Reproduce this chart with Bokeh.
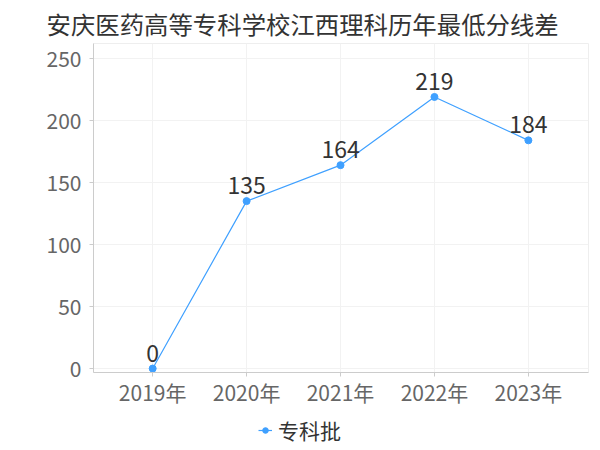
from bokeh.plotting import figure
from bokeh.layouts import column
from bokeh.models import ColumnDataSource, FixedTicker, Range1d, Legend, LegendItem
from bokeh.embed import file_html
from bokeh.resources import INLINE
from bokeh.core.properties import value

years = ["2019年", "2020年", "2021年", "2022年", "2023年"]
scores = [0, 135, 164, 219, 184]
series_name = "专科批"
title_text = "安庆医药高等专科学校江西理科历年最低分线差"
y_ticks = [0, 50, 100, 150, 200, 250]

xs = list(range(len(years)))
src = ColumnDataSource(dict(x=xs, y=scores, label=[str(v) for v in scores]))

LINE = "#3fa0ff"
FONT = "Noto Sans CJK SC"

p = figure(width=600, height=410, output_backend="svg", toolbar_location=None,
           x_range=Range1d(-0.63, 4.64), y_range=Range1d(-3.2, 262.1),
           min_border_left=93, min_border_right=12, min_border_top=43, min_border_bottom=38)

p.title.text = title_text
p.title.text_font = FONT
p.title.text_font_size = "24.4px"
p.title.text_font_style = "normal"
p.title.text_color = "#333333"
p.title.align = "left"
p.title.offset = -47
p.title.standoff = 6

p.outline_line_color = "#eeeeee"
p.background_fill_color = "white"

line_r = p.line("x", "y", source=src, line_color=LINE, line_width=1.2)
pts_r = p.scatter("x", "y", source=src, size=7, fill_color=LINE, line_color=LINE)
p.text("x", "y", text="label", source=src, text_align="center", text_baseline="bottom",
       y_offset=-7, text_font=value(FONT), text_font_size="23px", text_color="#333333")

p.xaxis.ticker = FixedTicker(ticks=xs)
p.xaxis.major_label_overrides = {i: y for i, y in enumerate(years)}
p.yaxis.ticker = FixedTicker(ticks=y_ticks)

for ax in (p.xaxis, p.yaxis):
    ax.axis_line_color = "#cccccc"
    ax.major_tick_line_color = "#cccccc"
    ax.major_tick_out = 4
    ax.major_tick_in = 0
    ax.minor_tick_line_color = None
    ax.major_label_text_font = FONT
    ax.major_label_text_font_size = "21px"
    ax.major_label_text_color = "#666666"
p.xaxis.major_label_standoff = 0
p.yaxis.major_label_standoff = 8

p.xgrid.ticker = FixedTicker(ticks=xs)
p.ygrid.ticker = FixedTicker(ticks=y_ticks)
p.grid.grid_line_color = "#f2f2f2"

# legend strip below the chart (its frame is aligned with the chart's frame)
lf = figure(width=600, height=40, output_backend="svg", toolbar_location=None,
            x_range=Range1d(0, 1), y_range=Range1d(1000, 1001),
            x_axis_type=None, y_axis_type=None,
            min_border_left=0, min_border_right=0, min_border_top=0, min_border_bottom=0)
lf.outline_line_color = None
lf.grid.visible = False
l_line = lf.line("x", "y", source=src, line_color=LINE, line_width=1.2)
l_pts = lf.scatter("x", "y", source=src, size=7, fill_color=LINE, line_color=LINE)

legend = Legend(items=[LegendItem(label=series_name, renderers=[l_line, l_pts])],
                location=(165, 5), orientation="horizontal",
                label_text_font=FONT, label_text_font_size="21px",
                label_text_color="#333333", border_line_color=None,
                background_fill_alpha=0, padding=0, margin=0,
                glyph_width=14, glyph_height=16, label_standoff=6)
lf.add_layout(legend)

layout = column(p, lf, spacing=0)
open("out.html", "w").write(file_html(layout, INLINE))
